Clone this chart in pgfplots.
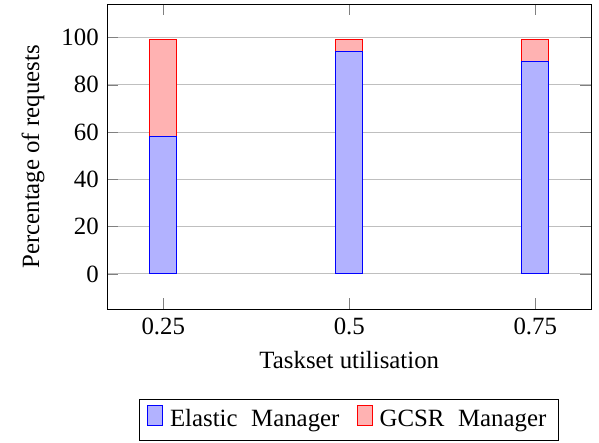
\documentclass[border=0pt]{standalone}
\usepackage{pgfplots}
\pgfplotsset{compat=1.18}
\usepackage{fontspec}
\setmainfont{Liberation Serif}
\begin{document}
\begin{tikzpicture}
\begin{axis}[
  name=ax,
  scale only axis,
  width=194.8pt, height=122.6pt,
  ybar stacked,
  bar width=10.8pt,
  xmin=0.175, xmax=0.825,
  ymin=-14.85, ymax=113.85,
  xtick={0.25,0.5,0.75},
  xticklabels={0.25,0.5,0.75},
  ytick={0,20,40,60,80,100},
  ymajorgrids,
  /pgf/number format/assume math mode=true,
  xlabel={Taskset utilisation},
  ylabel={Percentage of requests},
  legend style={at={(0.5,-0.296)}, anchor=north, legend columns=2,
    /tikz/every even column/.append style={column sep=5pt}},
]
\addplot[draw=blue, fill=blue!30] coordinates {(0.25,58) (0.5,94) (0.75,90)};
\addplot[draw=red, fill=red!30] coordinates {(0.25,41) (0.5,5) (0.75,9)};
\legend{\hspace{0.8pt}Elastic\hspace{3pt} Manager\hspace{2.8pt}, \hspace{0.8pt}GCSR\hspace{3pt} Manager\hspace{3pt}}
\end{axis}
\pgfresetboundingbox
\path ([xshift=-43.3pt,yshift=-53.7pt]ax.south west) rectangle ([xshift=3.2pt,yshift=1.9pt]ax.north east);
\end{tikzpicture}
\end{document}
